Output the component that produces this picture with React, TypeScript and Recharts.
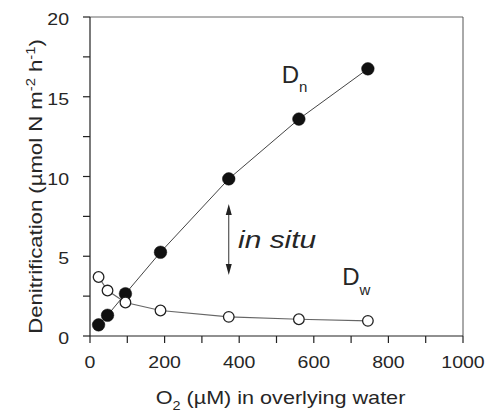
import React from 'react';
import { LineChart, Line, XAxis, YAxis, ReferenceLine, ReferenceDot } from 'recharts';

const oxygen = [23, 47, 95, 189, 372, 560, 745];
const dnValues = [0.7, 1.3, 2.65, 5.25, 9.85, 13.6, 16.75];
const dwValues = [3.7, 2.85, 2.1, 1.6, 1.2, 1.05, 0.95];
const xTicks = [0, 100, 200, 300, 400, 500, 600, 700, 800, 900, 1000];
const xLabelTicks = [0, 200, 400, 600, 800, 1000];
const yTicks = [0, 2.5, 5, 7.5, 10, 12.5, 15, 17.5, 20];
const yLabelTicks = [0, 5, 10, 15, 20];

const dnData = oxygen.map((x, i) => ({ x, y: dnValues[i] }));
const dwData = oxygen.map((x, i) => ({ x, y: dwValues[i] }));

const FONT = '"Liberation Sans", Arial, Helvetica, sans-serif';
const TXT = '#262626';
const SX = 1.22;

const XTick = (props: any) => {
  const { x, payload } = props;
  if (!xLabelTicks.includes(payload.value)) return <g />;
  return (
    <text
      x={0}
      y={0}
      transform={`translate(${x},368) scale(${SX},1)`}
      textAnchor="middle"
      fontFamily={FONT}
      fontSize={16}
      fill={TXT}
    >
      {payload.value}
    </text>
  );
};

const YTick = (props: any) => {
  const { y, payload } = props;
  if (!yLabelTicks.includes(payload.value)) return <g />;
  return (
    <text
      x={0}
      y={0}
      transform={`translate(69,${y + 8}) scale(${SX},1)`}
      textAnchor="end"
      fontFamily={FONT}
      fontSize={16}
      fill={TXT}
    >
      {payload.value}
    </text>
  );
};

const YTitle = (props: any) => {
  const vb = props.viewBox || { x: 0, y: 17, width: 90, height: 319 };
  const cx = vb.x + 42;
  const cy = vb.y + vb.height / 2 + 10;
  return (
    <text
      x={0}
      y={0}
      transform={`translate(${cx},${cy}) rotate(-90) scale(1.23,1)`}
      textAnchor="middle"
      fontFamily={FONT}
      fontSize={18}
      fill={TXT}
    >
      Denitrification (µmol N m
      <tspan fontSize={12} dy={-7}>-2</tspan>
      <tspan dy={7}> h</tspan>
      <tspan fontSize={12} dy={-7}>-1</tspan>
      <tspan dy={7}>)</tspan>
    </text>
  );
};

const XTitle = (props: any) => {
  const vb = props.viewBox || { x: 90, y: 336, width: 373, height: 78 };
  const cx = vb.x + vb.width / 2 + 4;
  return (
    <text
      x={0}
      y={0}
      transform={`translate(${cx},404) scale(1.2,1)`}
      textAnchor="middle"
      fontFamily={FONT}
      fontSize={18}
      fill={TXT}
    >
      O
      <tspan fontSize={12} dy={6}>2</tspan>
      <tspan dy={-6}> (µM) in overlying water</tspan>
    </text>
  );
};

const DnLabel = (props: any) => (
  <text x={props.cx} y={props.cy} fontFamily={FONT} fontSize={24} fill={TXT}>
    D<tspan fontSize={15} dy={9}>n</tspan>
  </text>
);

const DwLabel = (props: any) => (
  <text x={props.cx} y={props.cy} fontFamily={FONT} fontSize={24} fill={TXT}>
    D<tspan fontSize={15} dy={10}>w</tspan>
  </text>
);

const InSituLabel = (props: any) => (
  <text
    x={0}
    y={0}
    transform={`translate(${props.cx},${props.cy}) scale(1.3,1)`}
    fontFamily={FONT}
    fontSize={23}
    fontStyle="italic"
    fill={TXT}
  >
    in situ
  </text>
);

const ArrowUp = (props: any) => (
  <polygon
    points={`${props.cx},${props.cy} ${props.cx - 3},${props.cy + 11} ${props.cx + 3},${props.cy + 11}`}
    fill="#222"
  />
);

const ArrowDown = (props: any) => (
  <polygon
    points={`${props.cx},${props.cy} ${props.cx - 3},${props.cy - 11} ${props.cx + 3},${props.cy - 11}`}
    fill="#222"
  />
);

const FilledDot = (props: any) => (
  <circle key={`f-${props.index}`} cx={props.cx} cy={props.cy} r={6.3} fill="#111" stroke="#111" strokeWidth={0.5} />
);

const OpenDot = (props: any) => (
  <circle key={`o-${props.index}`} cx={props.cx} cy={props.cy} r={5.3} fill="#fff" stroke="#222" strokeWidth={1.3} />
);

export default function App() {
  return (
    <div style={{ position: 'absolute', left: 0, top: 0, background: '#fff' }}>
      <LineChart width={494} height={414} margin={{ top: 17, right: 31, left: 0, bottom: 0 }}>
        <XAxis
          type="number"
          dataKey="x"
          domain={[0, 1000]}
          ticks={xTicks}
          interval={0}
          allowDataOverflow
          height={78}
          tickSize={7}
          axisLine={{ stroke: '#222', strokeWidth: 1.2 }}
          tickLine={{ stroke: '#222', strokeWidth: 1.2 }}
          tick={<XTick />}
          label={<XTitle />}
        />
        <YAxis
          type="number"
          dataKey="y"
          domain={[0, 20]}
          ticks={yTicks}
          interval={0}
          allowDataOverflow
          width={90}
          tickSize={7}
          axisLine={{ stroke: '#222', strokeWidth: 1.2 }}
          tickLine={{ stroke: '#222', strokeWidth: 1.2 }}
          tick={<YTick />}
          label={<YTitle />}
        />
        <ReferenceLine y={20} stroke="#666" strokeWidth={1} />
        <ReferenceLine x={1000} stroke="#555" strokeWidth={1} />
        <ReferenceLine
          segment={[{ x: 372, y: 4.1 }, { x: 372, y: 8.0 }]}
          stroke="#333"
          strokeWidth={1}
        />
        <ReferenceDot x={372} y={8.28} r={0} shape={<ArrowUp />} />
        <ReferenceDot x={372} y={3.82} r={0} shape={<ArrowDown />} />
        <ReferenceDot x={514} y={15.86} r={0} shape={<DnLabel />} />
        <ReferenceDot x={676} y={3.2} r={0} shape={<DwLabel />} />
        <ReferenceDot x={397} y={5.52} r={0} shape={<InSituLabel />} />
        <Line
          data={dnData}
          dataKey="y"
          stroke="#444"
          strokeWidth={1}
          dot={<FilledDot />}
          activeDot={false}
          isAnimationActive={false}
        />
        <Line
          data={dwData}
          dataKey="y"
          stroke="#666"
          strokeWidth={1.2}
          dot={<OpenDot />}
          activeDot={false}
          isAnimationActive={false}
        />
      </LineChart>
    </div>
  );
}
